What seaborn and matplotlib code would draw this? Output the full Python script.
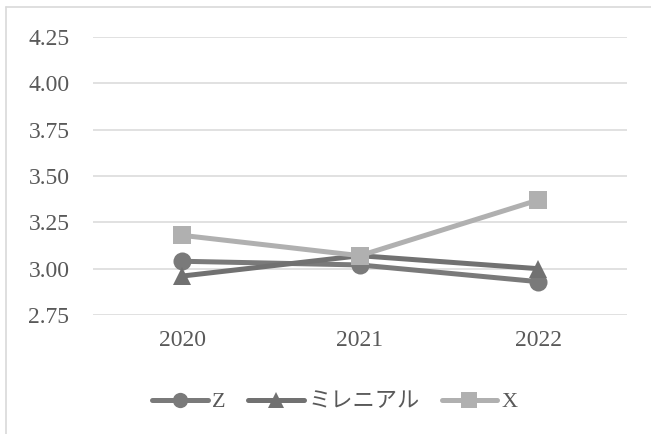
import matplotlib
matplotlib.use("Agg")
import matplotlib.pyplot as plt
from matplotlib.lines import Line2D
import seaborn as sns
import pandas as pd

# Survey scores by generation and year
years = ["2020", "2021", "2022"]
generations = ["Z", "ミレニアル", "X"]
z_scores = [3.04, 3.02, 2.93]
millennial_scores = [2.96, 3.07, 3.00]
x_scores = [3.18, 3.07, 3.37]
y_ticks = [2.75, 3.00, 3.25, 3.50, 3.75, 4.00, 4.25]

sns.set_theme(style="white")
plt.rcParams["font.family"] = ["Liberation Serif", "Noto Sans CJK JP"]

rows = []
for gen, vals in zip(generations, [z_scores, millennial_scores, x_scores]):
    for yr, v in zip(years, vals):
        rows.append({"年": yr, "値": v, "世代": gen})
df = pd.DataFrame(rows)

palette = {"Z": "#7a7a7a", "ミレニアル": "#717171", "X": "#b0b0b0"}
markers = {"Z": "o", "ミレニアル": "^", "X": "s"}

fig = plt.figure(figsize=(6.51, 4.34), dpi=100)
ax = fig.add_axes([93 / 651, 1 - 315 / 434, (627 - 93) / 651, (315 - 37) / 434])

sns.lineplot(data=df, x="年", y="値", hue="世代", style="世代",
             hue_order=generations, style_order=generations,
             palette=palette, markers=markers, dashes=False,
             linewidth=3.6, markersize=13, markeredgewidth=0,
             legend=False, ax=ax, zorder=3)

ax.set_xlim(-0.5, 2.5)
ax.set_ylim(2.75, 4.25)
ax.set_yticks(y_ticks)
ax.set_yticklabels([f"{t:.2f}" for t in y_ticks])
ax.yaxis.grid(True, color="#d9d9d9", linewidth=1.1)
ax.xaxis.grid(False)
ax.set_axisbelow(True)
for s in ax.spines.values():
    s.set_visible(False)
ax.tick_params(axis="both", length=0, labelsize=17, colors="#595959")
ax.tick_params(axis="y", pad=17)
ax.tick_params(axis="x", pad=11)
ax.set_xlabel("")
ax.set_ylabel("")

handles = [
    Line2D([], [], color=palette[g], marker=markers[g], linewidth=3.6,
           markersize=11, markeredgewidth=0, solid_capstyle="round")
    for g in generations
]
fig.legend(handles, generations, loc="center", bbox_to_anchor=(335 / 651, 1 - 402 / 434),
           ncol=3, frameon=False, fontsize=16, handlelength=2.5, handletextpad=0.2,
           columnspacing=1.0, labelcolor="#595959")

# Outer chart frame
fig.add_artist(Line2D([5.5 / 651, 1], [1 - 7 / 434, 1 - 7 / 434],
                      transform=fig.transFigure, color="#d9d9d9", linewidth=1.2))
fig.add_artist(Line2D([5.5 / 651, 5.5 / 651], [0, 1 - 7 / 434],
                      transform=fig.transFigure, color="#d9d9d9", linewidth=1.2))

fig.savefig("out.png", dpi=100, facecolor="white")
